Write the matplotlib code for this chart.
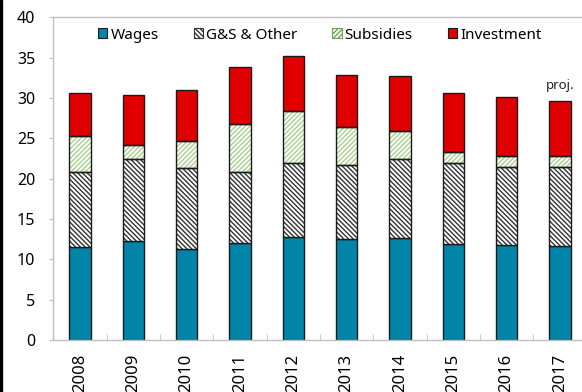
import matplotlib
matplotlib.use("Agg")
import matplotlib.pyplot as plt
from matplotlib.patches import Rectangle
from matplotlib.ticker import FixedLocator
import numpy as np

plt.rcParams['font.family'] = ['Noto Sans', 'DejaVu Sans']
plt.rcParams['hatch.linewidth'] = 1.0

years = ["2008", "2009", "2010", "2011", "2012", "2013", "2014", "2015", "2016", "2017"]
wages = [11.5, 12.3, 11.25, 12.05, 12.8, 12.5, 12.6, 11.85, 11.75, 11.7]
gs_other = [9.35, 10.15, 10.1, 8.8, 9.1, 9.2, 9.85, 10.15, 9.7, 9.75]
subsidies = [4.45, 1.7, 3.35, 5.9, 6.5, 4.65, 3.45, 1.35, 1.35, 1.35]
investment = [5.3, 6.25, 6.35, 7.05, 6.85, 6.55, 6.85, 7.3, 7.3, 6.8]
series_names = ["Wages", "G&S & Other", "Subsidies", "Investment"]
yticks = [0, 5, 10, 15, 20, 25, 30, 35, 40]

W, H = 582, 392
fig = plt.figure(figsize=(W / 100, H / 100), dpi=100)
ax = fig.add_axes([53.3 / W, 52 / H, 533.3 / W, 322.7 / H])

x = np.arange(len(years))
bw = 0.4
wages_a = np.array(wages)
gs_a = np.array(gs_other)
sub_a = np.array(subsidies)
inv_a = np.array(investment)

teal = "#0085A9"
red = "#E00000"
green = "#A8D08D"
edge = "#1a1a1a"

ax.bar(x, wages_a, bw, color=teal, edgecolor=edge, linewidth=1.0, zorder=2)
# G&S hatch
ax.bar(x, gs_a, bw, bottom=wages_a, facecolor="white", edgecolor="#333333", hatch="\\" * 7, linewidth=0, zorder=2)
ax.bar(x, gs_a, bw, bottom=wages_a, fill=False, edgecolor=edge, linewidth=1.0, zorder=3)
# Subsidies hatch
base2 = wages_a + gs_a
ax.bar(x, sub_a, bw, bottom=base2, facecolor="white", edgecolor=green, hatch="/" * 7, linewidth=0, zorder=2)
ax.bar(x, sub_a, bw, bottom=base2, fill=False, edgecolor=edge, linewidth=1.0, zorder=3)
base3 = base2 + sub_a
ax.bar(x, inv_a, bw, bottom=base3, color=red, edgecolor=edge, linewidth=1.0, zorder=2)

# legend handles
h_w = Rectangle((0, 0), 1, 1, facecolor=teal, edgecolor=edge, linewidth=0.8)
h_g = Rectangle((0, 0), 1, 1, facecolor="white", edgecolor="#333333", hatch="\\" * 7, linewidth=0.8)
h_s = Rectangle((0, 0), 1, 1, facecolor="white", edgecolor="#6aa84f", hatch="/" * 7, linewidth=0.8)
h_i = Rectangle((0, 0), 1, 1, facecolor=red, edgecolor=edge, linewidth=0.8)
leg = ax.legend([h_w, h_g, h_s, h_i], series_names, loc="center", bbox_to_anchor=(0.5, 0.945),
                ncol=4, frameon=False, fontsize=11, handlelength=0.6, handleheight=0.6,
                handletextpad=0.2, columnspacing=2.3, borderaxespad=0)

ax.text(9, 31.6, "proj.", ha="center", va="center", fontsize=9.5, color="#222222")

ax.set_xlim(-0.5, len(years) - 0.5)
ax.set_ylim(0, 40)
ax.set_yticks(yticks)
ax.set_yticklabels([str(v) for v in yticks], fontsize=11.5)
ax.set_xticks(x)
ax.set_xticklabels(years, rotation=90, fontsize=12, va="top")
ax.xaxis.set_minor_locator(FixedLocator(np.arange(-0.5, len(years), 1.0)))
ax.tick_params(axis="x", which="major", length=0, pad=10)
ax.tick_params(axis="x", which="minor", direction="in", length=4, color="#BFBFBF")
ax.tick_params(axis="y", which="major", direction="out", length=3, color="#BFBFBF", pad=10)

for s in ["left", "top", "bottom", "right"]:
    ax.spines[s].set_color("#BFBFBF")
    ax.spines[s].set_linewidth(1.0)

fig.patches.append(Rectangle((0, 0), 2 / W, 1, transform=fig.transFigure, color="black", zorder=10))

fig.savefig("out.png", dpi=100)
